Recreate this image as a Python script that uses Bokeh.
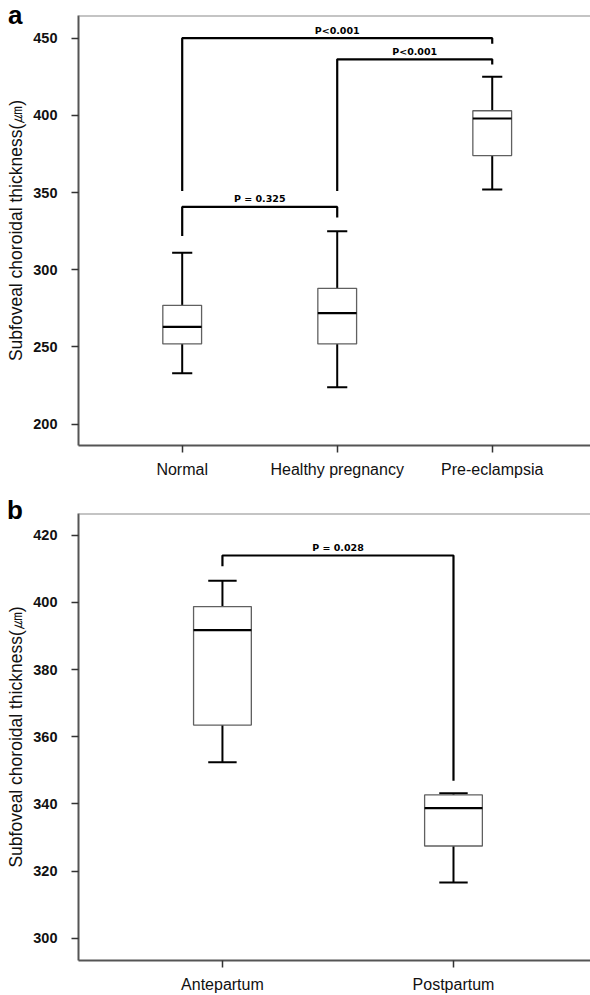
from bokeh.plotting import figure
from bokeh.models import FixedTicker, Span, ColumnDataSource, Div
from bokeh.layouts import column
from bokeh.embed import file_html
from bokeh.resources import INLINE
from bokeh.core.properties import value

# ---------------- data: panel a ----------------
groups_a = ["Normal", "Healthy pregnancy", "Pre-eclampsia"]
lower_a = [233, 224, 352]
q1_a = [252, 252, 374]
median_a = [263, 272, 398]
q3_a = [277, 288, 403]
upper_a = [311, 325, 425]
yticks_a = [200, 250, 300, 350, 400, 450]
# brackets: (left group, right group, bar height, left leg end, right leg end, label)
brackets_a = [
    (0, 2, 450, 351, 446.4, "P<0.001"),
    (1, 2, 436.3, 351, 433, "P<0.001"),
    (0, 1, 340.7, 321.9, 333.8, "P = 0.325"),
]

# ---------------- data: panel b ----------------
groups_b = ["Antepartum", "Postpartum"]
lower_b = [352.4, 316.6]
q1_b = [363.5, 327.5]
median_b = [391.8, 338.8]
q3_b = [398.8, 342.7]
upper_b = [406.5, 343.2]
yticks_b = [300, 320, 340, 360, 380, 400, 420]
brackets_b = [
    (0, 1, 414, 410.8, 346.9, "P = 0.028"),
]

YLABEL = "Subfoveal choroidal thickness(\u339b)"
TICK_FONT = "Liberation Sans"
TXT = "#111111"


def panel(groups, lower, q1, med, q3, upper, yticks, brackets,
          height, xr, yr, top_border, bottom_border, box_w, cap_w):
    p = figure(width=590, height=height, x_range=xr, y_range=yr,
               output_backend="svg", toolbar_location=None,
               min_border_left=78, min_border_right=0,
               min_border_top=top_border, min_border_bottom=bottom_border)
    p.outline_line_color = None
    p.xgrid.visible = False
    p.ygrid.visible = False
    p.background_fill_color = "white"

    xs = [i + 1 for i in range(len(groups))]
    src = ColumnDataSource(dict(x=xs, lower=lower, q1=q1, med=med, q3=q3, upper=upper,
                                x0=[x - box_w / 2 for x in xs], x1=[x + box_w / 2 for x in xs],
                                c0=[x - cap_w / 2 for x in xs], c1=[x + cap_w / 2 for x in xs]))
    # whiskers
    p.segment(x0="x", y0="q3", x1="x", y1="upper", source=src, line_color="black", line_width=2)
    p.segment(x0="x", y0="q1", x1="x", y1="lower", source=src, line_color="black", line_width=2)
    p.segment(x0="c0", y0="upper", x1="c1", y1="upper", source=src, line_color="black", line_width=2)
    p.segment(x0="c0", y0="lower", x1="c1", y1="lower", source=src, line_color="black", line_width=2)
    # boxes
    p.vbar(x="x", width=box_w, top="q3", bottom="q1", source=src,
           fill_color="white", line_color="#606060", line_width=1.3)
    p.segment(x0="x0", y0="med", x1="x1", y1="med", source=src, line_color="black", line_width=2.2)

    # significance brackets
    for (i, j, h, lend, rend, lab) in brackets:
        xl, xr_ = xs[i], xs[j]
        p.line(x=[xl, xl, xr_, xr_], y=[lend, h, h, rend], line_color="black", line_width=2.2)
        p.text(x=[(xl + xr_) / 2], y=[h], text=[lab], text_align="center",
               text_baseline="alphabetic", y_offset=-8,
               text_font=value("DejaVu Sans"), text_font_style="bold",
               text_font_size="9.5px", text_color="black")

    # top frame line
    p.add_layout(Span(location=yr[1], dimension="width", line_color="#8a8a8a", line_width=2))

    # axes
    p.xaxis.ticker = FixedTicker(ticks=xs)
    p.xaxis.major_label_overrides = {x: g for x, g in zip(xs, groups)}
    p.yaxis.ticker = FixedTicker(ticks=yticks)
    for ax in (p.xaxis[0], p.yaxis[0]):
        ax.axis_line_color = "#555555"
        ax.axis_line_width = 2
        ax.major_tick_line_color = "#333333"
        ax.major_tick_line_width = 1.5
        ax.major_tick_out = 7
        ax.major_tick_in = 0
        ax.minor_tick_line_color = None
        ax.major_label_text_font = TICK_FONT
        ax.major_label_text_color = TXT
    p.xaxis.major_label_text_font_size = "16px"
    p.xaxis.major_label_standoff = 8
    p.yaxis.major_label_text_font_size = "14.5px"
    p.yaxis.major_label_text_font_style = "bold"
    p.yaxis.major_label_standoff = 14
    p.yaxis.axis_label = YLABEL
    p.yaxis.axis_label_text_font = "Liberation Sans"
    p.yaxis.axis_label_text_font_style = "normal"
    p.yaxis.axis_label_text_font_size = "17.5px"
    p.yaxis.axis_label_text_color = TXT
    p.yaxis.axis_label_standoff = 4
    return p


def letter_div(letter, left, top):
    return Div(text=f'<span style="font-family: \'Liberation Sans\', Arial, sans-serif; '
                    f'font-size: 26px; font-weight: bold; line-height: 30px; color: black;">{letter}</span>',
               width=30, height=30,
               styles={"position": "absolute", "left": f"{left}px", "top": f"{top}px",
                       "z-index": "10", "margin": "0", "padding": "0"})


pa = panel(groups_a, lower_a, q1_a, median_a, q3_a, upper_a, yticks_a, brackets_a,
           height=498, xr=(0.331, 3.634), yr=(186.2, 464.7), top_border=15, bottom_border=53,
           box_w=0.25, cap_w=0.13)
pb = panel(groups_b, lower_b, q1_b, median_b, q3_b, upper_b, yticks_b, brackets_b,
           height=497, xr=(0.377, 2.593), yr=(293.4, 426.5), top_border=15, bottom_border=35,
           box_w=0.25, cap_w=0.123)

layout = column(pa, pb, letter_div("a", 8, 0), letter_div("b", 7, 495), spacing=0)
open("out.html", "w").write(file_html(layout, INLINE))
